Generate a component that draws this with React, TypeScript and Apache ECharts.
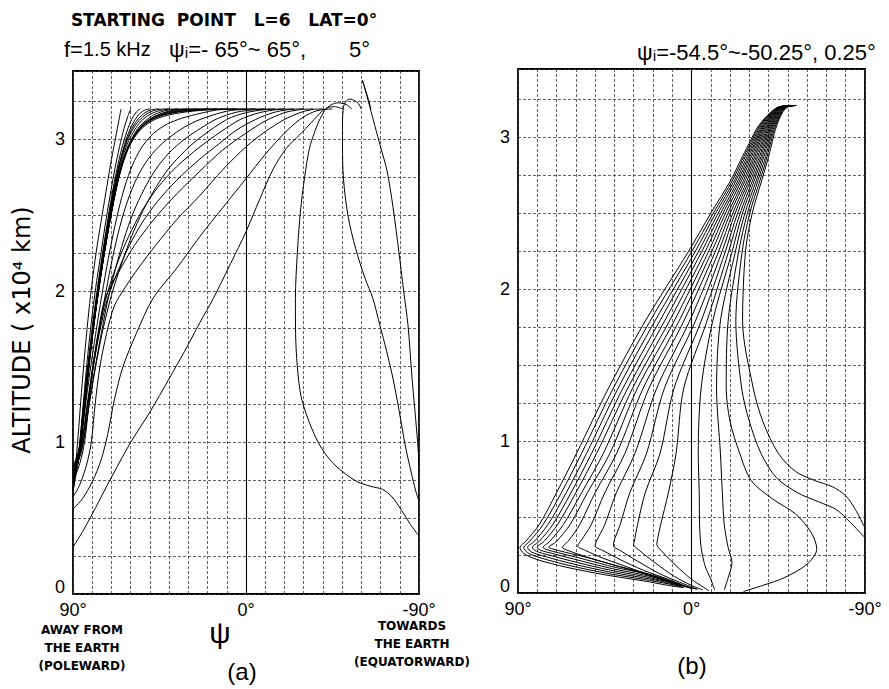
import { useEffect, useRef } from "react";
import * as echarts from "echarts";

type Pt = [number, number];

// ---------- Panel (a): f = 1.5 kHz, ψi = -65° … 65°, step 5° (ψ in degrees, altitude in 10^4 km)
const aM65: Pt[] = [[-65,3.2],[-63.5,3.27],[-62,3.33],[-60.5,3.39],[-61.3,3.36],[-62.8,3.29],[-64.5,3.21],[-67,3.09],[-70,2.95],[-73.4,2.79],[-76.5,2.55],[-79.5,2.26],[-82,2.0],[-84.3,1.77],[-86.4,1.42],[-88.3,1.15],[-89.6,0.95],[-90,0.85]];
const aM60: Pt[] = [[-60,3.2],[-58.5,3.235],[-56.5,3.255],[-54,3.265],[-52,3.25],[-50.7,3.21],[-50.2,3.1],[-50.2,2.95],[-50.7,2.74],[-53,2.5],[-57,2.28],[-62,2.08],[-66,1.95],[-69.7,1.77],[-73.2,1.6],[-76.5,1.42],[-79.5,1.22],[-83,0.97],[-86,0.8],[-88.3,0.68],[-89.8,0.62]];
const aM55: Pt[] = [[-55,3.2],[-52,3.23],[-48,3.24],[-44,3.225],[-41,3.19],[-38,3.12],[-35.5,3.04],[-33,2.94],[-30.5,2.75],[-28.3,2.52],[-26.7,2.25],[-25.7,1.95],[-25.8,1.72],[-26.7,1.5],[-28.7,1.3],[-33,1.13],[-38,0.99],[-44,0.88],[-51,0.8],[-58,0.74],[-65,0.71],[-71,0.69],[-76,0.64],[-81,0.55],[-85.5,0.46],[-89.5,0.39]];
const aM50: Pt[] = [[-50,3.2],[-46,3.215],[-43,3.21],[-40,3.19],[-34,3.11],[-28,3.03],[-21,2.94],[-14,2.8],[-7,2.6],[0,2.39],[8,2.18],[17,1.95],[24,1.79],[32,1.6],[40,1.42],[50,1.2],[60,1.0],[70,0.77],[77,0.6],[82,0.48],[86,0.39],[88.5,0.34],[90,0.31]];
const aM45: Pt[] = [[-45,3.2],[-40,3.195],[-35,3.18],[-28,3.13],[-20,3.04],[-10,2.9],[0,2.74],[12,2.55],[23.9,2.36],[36,2.15],[48.4,1.95],[57,1.72],[64,1.5],[68.5,1.28],[72,1.05],[75.5,0.88],[80,0.74],[85,0.63],[90,0.56]];
const aM40: Pt[] = [[-40,3.2],[-34,3.195],[-28,3.175],[-20,3.13],[-10,3.05],[0,2.95],[12,2.8],[23.9,2.63],[36,2.47],[47,2.3],[56,2.15],[63,2.02],[68.5,1.9],[72.5,1.72],[76,1.5],[78.5,1.25],[80.5,1.0],[83,0.85],[86.5,0.72],[90,0.64]];
const aM35: Pt[] = [[-35,3.2],[-28,3.195],[-20,3.175],[-10,3.12],[0,3.04],[12,2.93],[23.9,2.79],[36,2.64],[48,2.47],[58,2.3],[66,2.13],[73.3,1.95],[77,1.72],[79.6,1.5],[82,1.22],[84,1.0],[86.5,0.86],[90,0.74]];
const aM30: Pt[] = [[-30,3.2],[-22,3.195],[-14,3.175],[-5,3.13],[5,3.06],[14,2.97],[23.9,2.87],[36,2.73],[46,2.59],[54,2.45],[61,2.29],[67,2.12],[72,1.95],[76.3,1.72],[79.8,1.47],[82.7,1.22],[85.3,1.0],[87.6,0.86],[90,0.77]];
const aM25: Pt[] = [[-25,3.2],[-16,3.195],[-7,3.175],[3,3.13],[13,3.05],[23.9,2.95],[36,2.82],[46,2.68],[54,2.53],[61,2.36],[67,2.18],[72,1.99],[76,1.77],[79.5,1.52],[82.5,1.26],[85.2,1.02],[87.7,0.87],[90,0.79]];
const aM20: Pt[] = [[-20,3.2],[-10,3.195],[0,3.175],[10,3.13],[23.9,3.01],[32,2.92],[40,2.81],[47,2.68],[53.5,2.53],[59.5,2.36],[65,2.17],[70,1.97],[74.5,1.74],[78.5,1.48],[82,1.22],[85,0.98],[87.8,0.86],[90,0.8]];
const aM15: Pt[] = [[-15,3.2],[-5,3.195],[5,3.178],[15,3.135],[23.9,3.07],[32,3.0],[40,2.91],[47,2.8],[53,2.67],[58.5,2.52],[63.5,2.34],[68,2.14],[72.2,1.92],[76,1.67],[79.6,1.41],[82.8,1.15],[85.6,0.94],[88.2,0.85],[90,0.81]];
const aM10: Pt[] = [[-10,3.2],[0,3.197],[10,3.185],[23.9,3.13],[32,3.08],[40,3.01],[47,2.93],[53,2.83],[58,2.71],[62.5,2.56],[66.5,2.38],[70.2,2.17],[73.8,1.93],[77.3,1.67],[80.6,1.4],[83.4,1.15],[86,0.95],[88.3,0.87],[90,0.83]];
const aM05: Pt[] = [[-5,3.2],[5,3.198],[15,3.193],[23.9,3.17],[33,3.14],[41,3.1],[48,3.04],[53.5,2.96],[58,2.86],[62,2.73],[65.6,2.57],[69,2.38],[72.4,2.16],[75.8,1.91],[79,1.65],[81.9,1.4],[84.4,1.15],[86.6,0.95],[88.4,0.88],[90,0.84]];
const aP00: Pt[] = [[0,3.2],[10,3.198],[20,3.193],[30,3.182],[39,3.163],[46.5,3.135],[52.5,3.09],[57,3.03],[60.8,2.95],[64,2.84],[67,2.7],[70,2.51],[73.2,2.29],[76.4,2.03],[79.4,1.76],[82.2,1.5],[84.6,1.24],[86.6,0.98],[88.4,0.89],[90,0.85]];
const aP05: Pt[] = [[5,3.2],[15,3.198],[25,3.192],[35,3.18],[43,3.158],[49.5,3.125],[54.5,3.075],[58.6,3.01],[61.9,2.93],[64.9,2.82],[67.7,2.67],[70.6,2.48],[73.6,2.26],[76.7,2.01],[79.6,1.74],[82.3,1.48],[84.6,1.22],[86.6,0.97],[88.4,0.88],[90,0.84]];
const aP10: Pt[] = [[10,3.2],[20,3.198],[30,3.19],[39,3.175],[46,3.15],[51.5,3.11],[55.8,3.06],[59.4,2.99],[62.5,2.91],[65.4,2.79],[68.1,2.64],[70.9,2.45],[73.9,2.23],[76.9,1.98],[79.8,1.72],[82.4,1.46],[84.6,1.2],[86.6,0.96],[88.4,0.87],[90,0.83]];
const aP15: Pt[] = [[15,3.2],[24,3.198],[33,3.19],[41,3.173],[47.5,3.145],[52.5,3.105],[56.5,3.05],[60,2.98],[63,2.89],[65.8,2.77],[68.5,2.62],[71.3,2.43],[74.2,2.21],[77.2,1.96],[80,1.7],[82.5,1.44],[84.6,1.18],[86.6,0.95],[88.4,0.86],[90,0.82]];
const aP20: Pt[] = [[20,3.2],[28,3.198],[36,3.19],[43,3.17],[49,3.14],[53.5,3.1],[57.3,3.04],[60.6,2.96],[63.5,2.87],[66.2,2.75],[68.9,2.59],[71.7,2.4],[74.6,2.18],[77.5,1.94],[80.2,1.68],[82.6,1.42],[84.6,1.17],[86.6,0.94],[88.4,0.85],[90,0.81]];
const aP25: Pt[] = [[25,3.2],[32,3.198],[39,3.188],[45,3.165],[50,3.13],[54.5,3.08],[58.3,3.02],[61.5,2.94],[64.3,2.84],[66.9,2.72],[69.5,2.56],[72.2,2.37],[75,2.15],[77.8,1.91],[80.4,1.66],[82.7,1.4],[84.7,1.15],[86.6,0.93],[88.4,0.84],[90,0.8]];
const aP30: Pt[] = [[30,3.2],[37,3.197],[43,3.185],[48,3.16],[52.5,3.12],[56.3,3.07],[59.6,3.0],[62.5,2.92],[65.1,2.82],[67.6,2.69],[70.1,2.53],[72.7,2.34],[75.4,2.12],[78.1,1.88],[80.6,1.63],[82.8,1.38],[84.8,1.14],[86.7,0.92],[88.4,0.83],[90,0.79]];
const aP35: Pt[] = [[35,3.2],[41,3.197],[46,3.185],[50.5,3.16],[54.5,3.12],[58,3.06],[61,2.99],[63.7,2.9],[66.2,2.79],[68.6,2.65],[71,2.48],[73.5,2.28],[76,2.06],[78.5,1.83],[80.8,1.59],[82.9,1.35],[84.9,1.12],[86.8,0.91],[88.5,0.82],[90,0.78]];
const aP40: Pt[] = [[40,3.2],[45,3.197],[49,3.185],[53,3.155],[56.5,3.11],[59.6,3.05],[62.4,2.97],[65,2.87],[67.4,2.75],[69.8,2.6],[72.2,2.42],[74.6,2.22],[77,2.0],[79.3,1.78],[81.4,1.55],[83.3,1.32],[85.1,1.1],[86.9,0.9],[88.5,0.81],[90,0.76]];
const aP45: Pt[] = [[45,3.2],[49,3.195],[52.5,3.175],[56,3.135],[59,3.08],[61.8,3.0],[64.4,2.9],[66.9,2.77],[69.4,2.61],[72,2.42],[74.6,2.21],[77.1,1.99],[79.4,1.77],[81.5,1.54],[83.4,1.31],[85.2,1.09],[87,0.89],[88.6,0.8],[90,0.74]];
const aP50: Pt[] = [[50,3.2],[53,3.19],[56,3.16],[59,3.1],[61.8,3.02],[64.4,2.91],[67,2.78],[69.6,2.61],[72.2,2.42],[74.8,2.21],[77.3,1.99],[79.6,1.77],[81.7,1.54],[83.6,1.31],[85.4,1.09],[87.1,0.89],[88.7,0.79],[90,0.72]];
const aP55: Pt[] = [[55,3.2],[57,3.18],[59.5,3.13],[62,3.05],[64.6,2.94],[67.2,2.8],[69.8,2.63],[72.4,2.43],[75,2.22],[77.5,2.0],[79.8,1.78],[81.9,1.55],[83.8,1.32],[85.5,1.1],[87.2,0.9],[88.8,0.78],[90,0.7]];
const aP60: Pt[] = [[60,3.2],[61.5,3.15],[63.5,3.07],[65.8,2.95],[68.3,2.8],[70.8,2.62],[73.3,2.43],[75.8,2.22],[78.2,2.02],[80.4,1.8],[82.3,1.58],[84,1.35],[85.6,1.12],[87.3,0.9],[88.8,0.76],[90,0.68]];
const aP65: Pt[] = [[65,3.2],[66.5,3.1],[68.3,2.98],[70.5,2.83],[73,2.64],[75.5,2.45],[78,2.25],[80.3,2.03],[82.3,1.8],[84,1.57],[85.6,1.33],[87,1.1],[88.4,0.88],[90,0.66]];

const raysA: Pt[][] = [aM65, aM60, aM55, aM50, aM45, aM40, aM35, aM30, aM25, aM20, aM15, aM10, aM05, aP00, aP05, aP10, aP15, aP20, aP25, aP30, aP35, aP40, aP45, aP50, aP55, aP60, aP65];

// ---------- Panel (b): ψi = -50.25° … -54.5°, step 0.25°
const b5025: Pt[] = [[-50.25,3.21],[-45,3.2],[-41.5,3.17],[-37.5,3.12],[-33.5,3.05],[-29.5,2.95],[-25.5,2.85],[-20.5,2.72],[-10,2.5],[1.5,2.25],[24,1.79],[43,1.35],[59.6,0.92],[70,0.66],[79,0.45],[86,0.34],[89,0.3],[87,0.26],[80,0.22],[65,0.17],[45,0.12],[25,0.08],[12,0.05],[4,0.035]];
const b5050: Pt[] = [[-50.5,3.21],[-45.3,3.2],[-41.9,3.17],[-38,3.12],[-34.1,3.05],[-30.2,2.95],[-26.3,2.85],[-21.4,2.72],[-11.3,2.5],[-0.2,2.25],[21.5,1.79],[40.5,1.35],[57,0.92],[67.5,0.66],[77,0.45],[84,0.34],[87,0.3],[85,0.265],[78,0.23],[63,0.18],[44,0.13],[25,0.09],[12,0.06],[5,0.04]];
const b5075: Pt[] = [[-50.75,3.21],[-45.6,3.2],[-42.2,3.17],[-38.4,3.12],[-34.7,3.05],[-30.9,2.95],[-27.1,2.85],[-22.4,2.72],[-12.5,2.5],[-2,2.25],[19,1.79],[38,1.35],[54.4,0.92],[65,0.66],[74.5,0.45],[81.5,0.34],[85,0.3],[83,0.27],[76,0.24],[61,0.19],[43,0.14],[25,0.1],[13,0.07],[6,0.045]];
const b5100: Pt[] = [[-51,3.21],[-45.9,3.2],[-42.6,3.17],[-38.9,3.12],[-35.3,3.05],[-31.6,2.95],[-28,2.85],[-23.3,2.72],[-13.8,2.5],[-3.7,2.25],[16.5,1.79],[35.5,1.35],[51.8,0.92],[62.5,0.66],[72,0.45],[79,0.34],[82.5,0.3],[80.5,0.275],[74,0.25],[59,0.2],[42,0.15],[25,0.11],[13,0.075],[5,0.045]];
const b5125: Pt[] = [[-51.25,3.21],[-46.2,3.2],[-42.9,3.17],[-39.4,3.12],[-35.9,3.05],[-32.3,2.95],[-28.8,2.85],[-24.3,2.72],[-15.1,2.5],[-5.4,2.25],[14,1.79],[33,1.35],[49.2,0.92],[60,0.66],[69.5,0.45],[76.5,0.34],[80,0.3],[78,0.28],[72,0.26],[57,0.21],[41,0.16],[25,0.12],[13,0.08],[4,0.045]];
const b5150: Pt[] = [[-51.5,3.21],[-46.5,3.2],[-43.3,3.17],[-39.9,3.12],[-36.4,3.05],[-33,2.95],[-29.6,2.85],[-25.2,2.72],[-16.3,2.5],[-7.2,2.25],[11.5,1.79],[30.5,1.35],[45.7,0.92],[57,0.66],[66.5,0.45],[73.5,0.34],[77,0.3],[75,0.285],[69,0.265],[55,0.22],[40,0.17],[25,0.13],[13,0.085],[3,0.04]];
const b5175: Pt[] = [[-51.75,3.21],[-46.8,3.2],[-43.6,3.17],[-40.3,3.12],[-37,3.05],[-33.7,2.95],[-30.4,2.85],[-26.1,2.72],[-17.6,2.5],[-8.9,2.25],[9,1.79],[28,1.35],[42.3,0.92],[54,0.66],[63,0.45],[70,0.34],[74,0.3],[72,0.29],[66,0.27],[53,0.23],[39,0.18],[25,0.135],[13,0.09],[2,0.04]];
const b5200: Pt[] = [[-52,3.21],[-47.1,3.2],[-44,3.17],[-40.8,3.12],[-37.6,3.05],[-34.4,2.95],[-31.3,2.85],[-27.1,2.72],[-18.9,2.5],[-10.6,2.25],[6.5,1.79],[25,1.35],[38.8,0.92],[50,0.66],[58,0.45],[64,0.34],[67,0.3],[64,0.28],[55,0.24],[42,0.19],[28,0.14],[15,0.09],[5,0.05],[0,0.03]];
const b5225: Pt[] = [[-52.25,3.21],[-47.4,3.2],[-44.3,3.17],[-41.3,3.12],[-38.2,3.05],[-35.1,2.95],[-32.1,2.85],[-28,2.72],[-20.1,2.5],[-12.4,2.25],[4,1.79],[22,1.35],[34.5,0.92],[45,0.66],[52,0.45],[57,0.35],[59,0.31],[55,0.28],[46,0.23],[33,0.17],[20,0.11],[8,0.06],[-1,0.03]];
const b5250: Pt[] = [[-52.5,3.21],[-47.6,3.2],[-44.7,3.17],[-41.7,3.12],[-38.8,3.05],[-35.9,2.95],[-32.9,2.85],[-29,2.72],[-21.4,2.5],[-14.1,2.25],[1,1.79],[18,1.35],[29.3,0.92],[39,0.66],[45,0.45],[49,0.35],[50,0.31],[46,0.28],[37,0.22],[25,0.15],[12,0.09],[2,0.04],[-3,0.025]];
const b5275: Pt[] = [[-52.75,3.21],[-47.9,3.2],[-45,3.17],[-42.2,3.12],[-39.4,3.05],[-36.6,2.95],[-33.7,2.85],[-29.9,2.72],[-22.6,2.5],[-15.9,2.25],[-2,1.79],[14,1.35],[23.3,0.92],[32,0.66],[37,0.45],[40,0.35],[40.5,0.31],[37,0.28],[28,0.21],[17,0.13],[6,0.07],[-3,0.025]];
const b5300: Pt[] = [[-53,3.21],[-48.2,3.2],[-45.4,3.17],[-42.7,3.12],[-40,3.05],[-37.3,2.95],[-34.6,2.85],[-30.8,2.72],[-23.9,2.5],[-17.6,2.25],[-5,1.79],[9,1.35],[16.3,0.92],[24,0.66],[28,0.45],[29.5,0.35],[30,0.32],[27,0.28],[19,0.2],[9,0.11],[0,0.05],[-6,0.02]];
const b5325: Pt[] = [[-53.25,3.21],[-48.5,3.2],[-45.7,3.17],[-43.1,3.12],[-40.6,3.05],[-38,2.95],[-35.4,2.85],[-31.8,2.72],[-25.2,2.5],[-19.3,2.25],[-8,1.79],[4,1.35],[8,0.92],[12,0.66],[16,0.45],[17.5,0.36],[18,0.32],[15,0.27],[8,0.18],[0,0.09],[-6,0.04],[-9,0.015]];
const b5350: Pt[] = [[-53.5,3.21],[-48.8,3.2],[-46.1,3.17],[-43.6,3.12],[-41.1,3.05],[-38.7,2.95],[-36.2,2.85],[-32.7,2.72],[-26.4,2.5],[-21.1,2.25],[-11,1.79],[-5,1.35],[-3.5,0.92],[-4,0.66],[-4.2,0.45],[-5,0.3],[-7,0.18],[-10,0.09],[-12,0.02]];
const b5375: Pt[] = [[-53.75,3.21],[-49.1,3.2],[-46.4,3.17],[-44.1,3.12],[-41.7,3.05],[-39.4,2.95],[-37,2.85],[-33.7,2.72],[-27.7,2.5],[-22.8,2.25],[-15,1.79],[-13,1.35],[-15,0.92],[-16,0.66],[-17,0.45],[-19,0.3],[-21,0.2],[-19,0.1],[-17,0.02]];
const b5400: Pt[] = [[-54,3.21],[-49.4,3.2],[-46.8,3.17],[-44.6,3.12],[-42.3,3.05],[-40.1,2.95],[-37.9,2.85],[-34.6,2.72],[-29,2.5],[-24.5,2.25],[-19,1.79],[-18,1.35],[-20,1.13],[-25,0.92],[-31,0.74],[-42,0.62],[-54,0.52],[-62,0.4],[-65,0.29],[-60,0.19],[-48,0.1],[-37,0.05],[-27,0.01]];
const b5425: Pt[] = [[-54.25,3.21],[-49.7,3.2],[-47.1,3.17],[-45,3.12],[-42.9,3.05],[-40.8,2.95],[-38.7,2.85],[-35.6,2.72],[-30.2,2.5],[-26.3,2.25],[-23,1.79],[-26,1.35],[-30,1.13],[-36,0.92],[-44,0.76],[-55,0.66],[-66,0.6],[-75,0.55],[-82,0.47],[-89.5,0.37]];
const b5450: Pt[] = [[-54.5,3.21],[-50,3.2],[-47.5,3.17],[-45.5,3.12],[-43.5,3.05],[-41.5,2.95],[-39.5,2.85],[-36.5,2.72],[-31.5,2.5],[-28,2.25],[-26.5,1.79],[-32,1.35],[-37,1.13],[-45,0.92],[-54,0.8],[-64,0.74],[-73,0.7],[-80,0.64],[-85,0.55],[-89.5,0.44]];

const raysB: Pt[][] = [b5025, b5050, b5075, b5100, b5125, b5150, b5175, b5200, b5225, b5250, b5275, b5300, b5325, b5350, b5375, b5400, b5425, b5450];

// ---------- axes
const psiLabels: Record<string, string> = { "90": "90°", "0": "0°", "-90": "-90°" };
const altLabels = [0, 1, 2, 3];
const ALT_MAX = 3.45;

const FONT = '"Liberation Sans", Arial, Helvetica, sans-serif';
const WIDE = '"DejaVu Sans", Verdana, sans-serif';

const gridLine = { show: true, lineStyle: { color: "#3a3a3a", width: 0.8, type: [3, 2] as number[] } };

function xAxisFor(gridIndex: number) {
  return {
    type: "value" as const,
    gridIndex,
    min: -90,
    max: 90,
    interval: 10,
    inverse: true,
    axisLine: { show: false },
    axisTick: { show: false },
    axisLabel: {
      showMinLabel: true,
      showMaxLabel: true,
      margin: 7,
      color: "#000",
      fontSize: 18,
      fontFamily: FONT,
      formatter: (v: number) => psiLabels[String(v)] ?? "",
    },
    splitLine: gridLine,
  };
}

function yAxisFor(gridIndex: number) {
  return {
    type: "value" as const,
    gridIndex,
    min: 0,
    max: ALT_MAX,
    interval: 0.25,
    axisLine: { show: false },
    axisTick: { show: false },
    axisLabel: {
      margin: 8,
      color: "#000",
      fontSize: 18,
      fontFamily: FONT,
      // the zero label sits a little above the bottom edge, clear of the ψ labels
      formatter: (v: number) => (v === 0 ? "{z|0}" : altLabels.includes(v) ? String(v) : ""),
      rich: {
        z: { fontSize: 18, fontFamily: FONT, color: "#000", padding: [0, 0, 14, 0] },
      },
    },
    splitLine: gridLine,
  };
}

function raySeries(data: Pt[], panel: number, withZeroLine: boolean) {
  return {
    type: "line" as const,
    xAxisIndex: panel,
    yAxisIndex: panel,
    data,
    smooth: 0.3,
    symbol: "none",
    showSymbol: false,
    silent: true,
    lineStyle: { color: "#000", width: 1 },
    markLine: withZeroLine
      ? {
          silent: true,
          symbol: ["none", "none"],
          label: { show: false },
          lineStyle: { color: "#000", type: "solid", width: 1.1 },
          data: [{ xAxis: 0 }],
        }
      : undefined,
  };
}

type TextOpts = {
  family?: string;
  weight?: string;
  align?: string;
  lineHeight?: number;
  rotation?: number;
  rich?: Record<string, unknown>;
};

function text(x: number, y: number, str: string, size: number, o: TextOpts = {}) {
  return {
    type: "text" as const,
    x,
    y,
    rotation: o.rotation ?? 0,
    style: {
      text: str,
      fill: "#000",
      fontSize: size,
      fontFamily: o.family ?? FONT,
      fontWeight: o.weight ?? "normal",
      align: o.align ?? "center",
      verticalAlign: "middle",
      lineHeight: o.lineHeight,
      rich: o.rich,
    },
  };
}

export default function App() {
  const ref = useRef<HTMLDivElement>(null);

  useEffect(() => {
    if (!ref.current) return;
    const chart = echarts.init(ref.current, null, { renderer: "svg" });

    const option = {
      animation: false,
      backgroundColor: "#fff",
      grid: [
        { left: 73, top: 71, width: 346, height: 523, show: true, borderColor: "#000", borderWidth: 1.8, backgroundColor: "transparent" },
        { left: 518, top: 69, width: 347, height: 524, show: true, borderColor: "#000", borderWidth: 1.8, backgroundColor: "transparent" },
      ],
      xAxis: [xAxisFor(0), xAxisFor(1)],
      yAxis: [yAxisFor(0), yAxisFor(1)],
      series: [
        ...raysA.map((d, i) => raySeries(d, 0, i === 0)),
        ...raysB.map((d, i) => raySeries(d, 1, i === 0)),
      ],
      graphic: [
        text(224, 20, "STARTING  POINT   L=6   LAT=0°", 17, { family: WIDE, weight: "bold" }),
        text(64, 49, "{a|f=}{b|1.5 kHz}{a|   ψᵢ=- 65°~ 65°,       5°}", 20, {
          align: "left",
          rich: {
            a: { fontSize: 22, fontFamily: FONT, fill: "#000" },
            b: { fontSize: 20, fontFamily: FONT, fill: "#000" },
          },
        }),
        text(637, 52, "ψᵢ=-54.5°~-50.25°, 0.25°", 22, { align: "left" }),
        text(22, 330, "ALTITUDE ( x10⁴ km)", 24, { family: WIDE, rotation: Math.PI / 2 }),
        text(82, 648, "AWAY FROM\nTHE EARTH\n(POLEWARD)", 12, { family: WIDE, weight: "bold", lineHeight: 18 }),
        text(412, 644, "TOWARDS\nTHE EARTH\n(EQUATORWARD)", 12, { family: WIDE, weight: "bold", lineHeight: 18 }),
        text(220, 632, "ψ", 30),
        text(242, 671, "(a)", 24),
        text(692, 665, "(b)", 24),
      ],
    };

    chart.setOption(option as echarts.EChartsCoreOption);
    return () => chart.dispose();
  }, []);

  return (
    <div
      ref={ref}
      style={{ position: "fixed", left: 0, top: 0, width: 889, height: 689, background: "#fff" }}
    />
  );
}
